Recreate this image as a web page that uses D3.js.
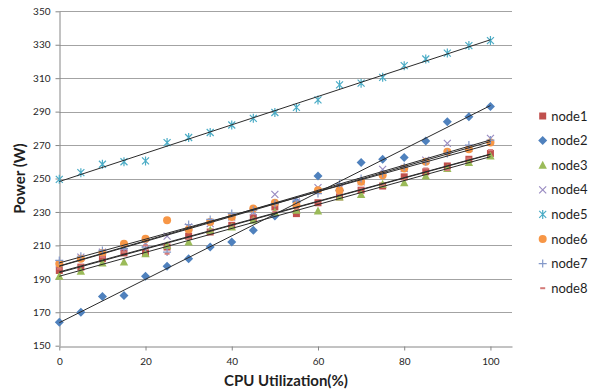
<!DOCTYPE html>
<html>
<head>
<meta charset="utf-8">
<script src="https://cdn.jsdelivr.net/npm/d3@7"></script>
<style>
	body { margin: 0; background: #fff; }
	svg { display: block; font-family: Lato, 'Open Sans', sans-serif; }
</style>
</head>
<body>
<div id="chart"></div>
<script>
var cpu = [0, 5, 10, 15, 20, 25, 30, 35, 40, 45, 50, 55, 60, 65, 70, 75, 80, 85, 90, 95, 100];
var xTicks = [0, 20, 40, 60, 80, 100];
var yTicks = [150, 170, 190, 210, 230, 250, 270, 290, 310, 330, 350];
var names = ['node1', 'node2', 'node3', 'node4', 'node5', 'node6', 'node7', 'node8'];
var node1 = [195, 197, 202, 205.5, 205.5, 209, 215.5, 218, 222, 226.5, 233, 229, 235.5, 239, 243, 245.5, 251, 254, 257.5, 261.5, 265];
var node2 = [164, 170, 179.5, 180, 191.5, 197.5, 202, 209, 212, 219, 227.5, 236, 251.5, 243, 259.5, 261.5, 262.5, 272.5, 284, 287, 293];
var node3 = [191.5, 194.5, 199.5, 200, 205, 210, 212, 219, 221, 225, 230, 231, 230.5, 239, 240.5, 246.5, 247.5, 251.5, 256, 259.5, 263.5];
var node4 = [199, 203, 206, 209, 211, 215.5, 221, 223, 227, 230, 240.5, 236, 244.5, 244, 248, 255.5, 256, 261, 271, 268, 274];
var node5 = [249.5, 253.5, 258.5, 260, 260.5, 271.5, 274.5, 277.5, 282, 286, 289.5, 292.5, 297, 306, 307, 310.5, 317.5, 321.5, 325, 329.5, 332.5];
var node6 = [199, 202, 205.5, 211, 214, 225, 219.5, 224, 227, 232, 235.5, 234, 243, 243, 248, 252, 256, 260, 266, 267.5, 271.5];
var node7 = [201, 203.5, 207, 208, 209, 206, 222.5, 225.5, 229, 231, 235, 237, 241, 247, 250, 253, 257, 260, 265, 270, 273];
var node8 = [196, 198, 203, 206, 210, 205, 214, 219, 222, 226, 230, 232, 236, 240, 244, 246, 250, 256, 255, 262, 267];

var WIDTH = 590;
var HEIGHT = 389;
var seriesValues = [node1, node2, node3, node4, node5, node6, node7, node8];
var colors = ['#c0504d', '#4f81bd', '#9bbb59', '#9a8cc2', '#4bacc6', '#f79646', '#8499c9', '#d47a78'];
var shapes = ['square', 'diamond', 'triangle', 'x', 'asterisk', 'circle', 'plus', 'dash'];

var svg = d3.select('#chart').append('svg')
	.attr('width', WIDTH)
	.attr('height', HEIGHT);

var x = d3.scaleLinear().domain([0, 105]).range([59.3, 512]);
var y = d3.scaleLinear().domain([150, 350]).range([345.7, 11.3]);

// grid
svg.append('g')
	.selectAll('line')
	.data(yTicks.slice(1))
	.enter().append('line')
	.attr('x1', x(0))
	.attr('x2', x(105))
	.attr('y1', function (d) { return Math.round(y(d)) + 0.5; })
	.attr('y2', function (d) { return Math.round(y(d)) + 0.5; })
	.style('stroke', '#a3a3a3')
	.style('stroke-width', 1);

var xAxis = d3.axisBottom(x).tickValues(xTicks).tickSize(4).tickSizeOuter(0).tickPadding(7);
var yAxis = d3.axisLeft(y).tickValues(yTicks).tickSize(4).tickSizeOuter(0).tickPadding(5);

svg.append('g')
	.attr('class', 'x axis')
	.attr('transform', 'translate(0,' + (Math.round(y(150)) + 0.5) + ')')
	.call(xAxis);

svg.append('g')
	.attr('class', 'y axis')
	.attr('transform', 'translate(' + (Math.round(x(0)) + 0.5) + ',0)')
	.call(yAxis);

svg.selectAll('.axis path, .axis line').style('stroke', '#868686');
svg.selectAll('.axis text')
	.attr('fill', '#262626')
	.style('font-size', '10px')
	.style('font-family', 'Lato, sans-serif');

svg.append('text')
	.attr('x', 286)
	.attr('y', 386)
	.attr('text-anchor', 'middle')
	.attr('fill', '#1f1f1f')
	.style('font-size', '15px')
	.style('font-weight', 'bold')
	.text('CPU Utilization(%)');

svg.append('text')
	.attr('transform', 'translate(25,' + 178.5 + ') rotate(-90)')
	.attr('text-anchor', 'middle')
	.attr('fill', '#1f1f1f')
	.style('font-size', '15px')
	.style('font-weight', 'bold')
	.text('Power (W)');

function markerPath (shape) {
	switch (shape) {
		case 'square': return 'M-3.5,-3.5H3.5V3.5H-3.5Z';
		case 'diamond': return 'M0,-4.5L4.5,0L0,4.5L-4.5,0Z';
		case 'triangle': return 'M0,-4.5L4.2,3.5H-4.2Z';
		case 'circle': return 'M4,0A4,4 0 1,1 -4,0A4,4 0 1,1 4,0Z';
		case 'x': return 'M-3.5,-3.5L3.5,3.5M3.5,-3.5L-3.5,3.5';
		case 'asterisk': return 'M-3.5,-3.5L3.5,3.5M3.5,-3.5L-3.5,3.5M0,-4.5V4.5';
		case 'plus': return 'M-4,0H4M0,-4V4';
		case 'dash': return 'M-2.5,0H2.5';
	}
}

function isStroked (shape) {
	return shape === 'x' || shape === 'asterisk' || shape === 'plus' || shape === 'dash';
}

function drawMarkers (sel, shape, color) {
	sel.attr('d', markerPath(shape))
		.style('fill', isStroked(shape) ? 'none' : color)
		.style('stroke', isStroked(shape) ? color : 'none')
		.style('stroke-width', shape === 'dash' ? 2 : 1.2);
}

var series = names.map(function (name, i) {
	return {
		name: name,
		shape: shapes[i],
		color: colors[i],
		points: cpu.map(function (c, j) { return { x: c, y: seriesValues[i][j] }; })
	};
});

series.forEach(function (s) {
	svg.append('g')
		.selectAll('path')
		.data(s.points)
		.enter().append('path')
		.attr('transform', function (d) { return 'translate(' + x(d.x) + ',' + y(d.y) + ')'; })
		.call(drawMarkers, s.shape, s.color);
});

// linear trendlines
function fit (points) {
	var mx = d3.mean(points, function (d) { return d.x; });
	var my = d3.mean(points, function (d) { return d.y; });
	var num = d3.sum(points, function (d) { return (d.x - mx) * (d.y - my); });
	var den = d3.sum(points, function (d) { return (d.x - mx) * (d.x - mx); });
	var b = num / den;
	return { a: my - b * mx, b: b };
}

series.forEach(function (s) {
	var f = fit(s.points);
	var x0 = d3.min(cpu);
	var x1 = d3.max(cpu);
	svg.append('line')
		.attr('x1', x(x0))
		.attr('y1', y(f.a + f.b * x0))
		.attr('x2', x(x1))
		.attr('y2', y(f.a + f.b * x1))
		.style('stroke', '#2b2b2b')
		.style('stroke-width', 1);
});

var legend = svg.append('g')
	.selectAll('g')
	.data(series)
	.enter().append('g')
	.attr('transform', function (d, i) { return 'translate(542.7,' + (116 + i * 24.6) + ')'; });

legend.each(function (s) {
	d3.select(this).append('path').call(drawMarkers, s.shape, s.color);
});

legend.append('text')
	.attr('x', 8.5)
	.attr('dy', '0.35em')
	.attr('fill', '#1f1f1f')
	.style('font-size', '13px')
	.text(function (d) { return d.name; });
</script>
</body>
</html>
